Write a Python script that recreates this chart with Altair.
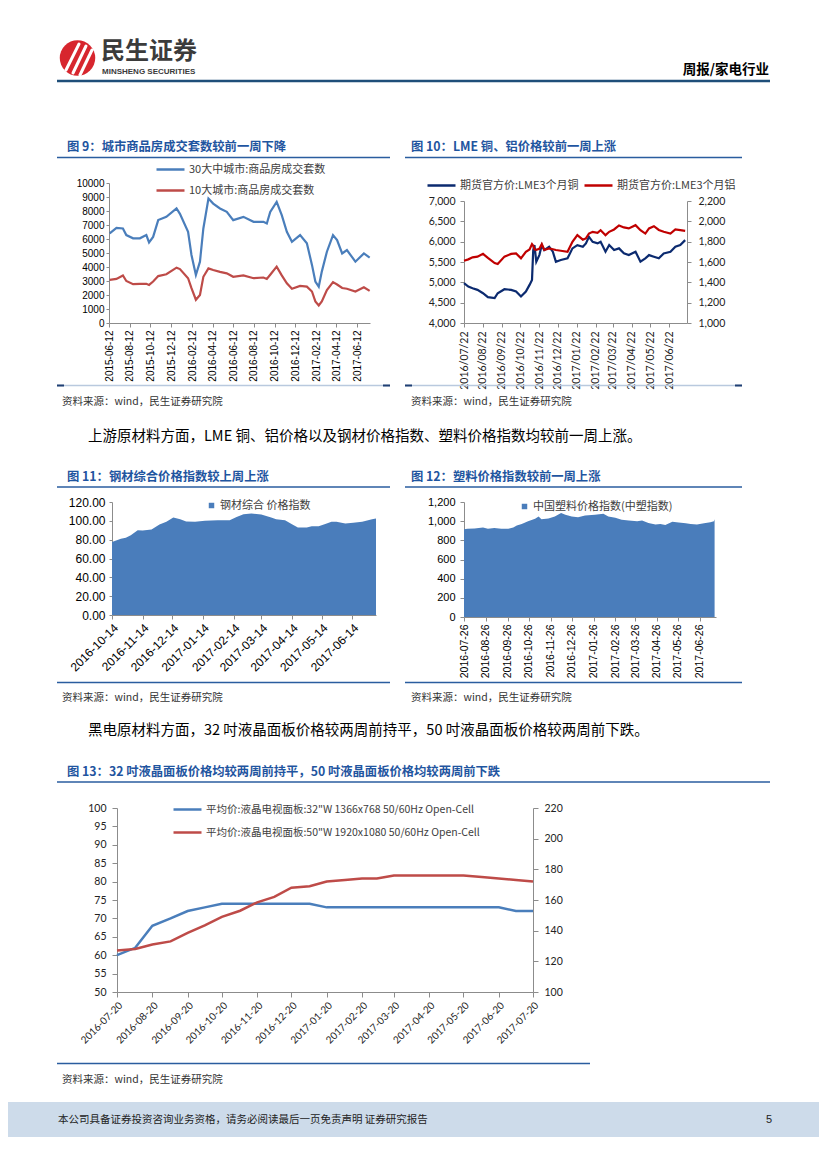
import altair as alt
import pandas as pd

CJK = "Noto Sans CJK SC"
ARIAL = "Liberation Sans"
CAL = "Lato"

# ======================= DATA =======================
# Fig 9: weekly housing transactions
fig9_names = ["30大中城市:商品房成交套数", "10大城市:商品房成交套数"]
fig9_dates = ["2015-06-14", "2015-07-04", "2015-07-23", "2015-08-02", "2015-08-22", "2015-09-11",
              "2015-09-30", "2015-10-08", "2015-10-20", "2015-11-04", "2015-11-28", "2015-12-28",
              "2016-01-07", "2016-01-31", "2016-02-10", "2016-02-23", "2016-03-06", "2016-03-16",
              "2016-03-31", "2016-04-14", "2016-05-04", "2016-05-24", "2016-06-12", "2016-07-12",
              "2016-08-11", "2016-09-09", "2016-09-19", "2016-09-29", "2016-10-18", "2016-11-02",
              "2016-11-17", "2016-12-02", "2016-12-26", "2017-01-15", "2017-01-30", "2017-02-09",
              "2017-02-19", "2017-02-28", "2017-03-15", "2017-04-02", "2017-04-14", "2017-04-29",
              "2017-05-13", "2017-06-07", "2017-07-02", "2017-07-19"]
fig9_big30 = [6400, 6800, 6750, 6280, 6050, 6050, 6280, 5760, 6150, 7350, 7580, 8180, 7800, 6510,
              4860, 3430, 4380, 6750, 8890, 8530, 8180, 7940, 7350, 7580, 7230, 7230, 7110, 7940,
              8650, 7700, 6510, 5800, 6280, 5690, 4150, 2960, 2600, 3670, 5090, 6280, 5920, 4970,
              5210, 4380, 4970, 4670]
fig9_top10 = [3080, 3150, 3390, 3000, 2770, 2800, 2800, 2720, 2960, 3350, 3480, 3950, 3850, 3200,
              2490, 1660, 2000, 3300, 3900, 3790, 3650, 3550, 3300, 3400, 3200, 3250, 3150, 3450,
              4030, 3400, 2840, 2440, 2650, 2600, 2250, 1540, 1250, 1540, 2350, 2920, 2750, 2500,
              2450, 2250, 2550, 2290]
fig9_ticks = ["2015-06-12", "2015-08-12", "2015-10-12", "2015-12-12", "2016-02-12", "2016-04-12",
              "2016-06-12", "2016-08-12", "2016-10-12", "2016-12-12", "2017-02-12", "2017-04-12",
              "2017-06-12"]

# Fig 10: LME copper / aluminium
fig10_names = ["期货官方价:LME3个月铜", "期货官方价:LME3个月铝"]
fig10_dates = ["2016-07-22", "2016-07-29", "2016-08-05", "2016-08-13", "2016-08-22", "2016-08-30",
               "2016-09-10", "2016-09-15", "2016-09-26", "2016-10-07", "2016-10-15", "2016-10-23",
               "2016-10-31", "2016-11-06", "2016-11-10", "2016-11-12", "2016-11-14", "2016-11-17",
               "2016-11-22", "2016-11-26", "2016-11-30", "2016-12-08", "2016-12-14", "2016-12-19",
               "2016-12-27", "2017-01-07", "2017-01-15", "2017-01-23", "2017-02-01", "2017-02-06",
               "2017-02-11", "2017-02-17", "2017-02-25", "2017-03-02", "2017-03-10", "2017-03-16",
               "2017-03-24", "2017-04-01", "2017-04-09", "2017-04-17", "2017-04-28", "2017-05-06",
               "2017-05-14", "2017-05-20", "2017-05-28", "2017-06-05", "2017-06-13", "2017-06-24",
               "2017-07-02", "2017-07-10", "2017-07-18"]
fig10_copper = [4979, 4896, 4855, 4815, 4733, 4636, 4611, 4733, 4831, 4815, 4774, 4651, 4774, 4937,
                5060, 5794, 5916, 5507, 5670, 5916, 5794, 5875, 5753, 5507, 5549, 5590, 5835, 5916,
                5875, 5957, 6119, 5997, 5957, 5997, 5753, 5916, 5794, 5835, 5712, 5670, 5753, 5507,
                5590, 5670, 5630, 5590, 5712, 5753, 5875, 5916, 6038]
fig10_alu = [1613, 1626, 1646, 1653, 1680, 1640, 1590, 1580, 1653, 1680, 1685, 1636, 1700, 1724,
             1776, 1760, 1724, 1720, 1730, 1776, 1718, 1734, 1725, 1718, 1711, 1700, 1799, 1864,
             1820, 1832, 1880, 1897, 1887, 1913, 1864, 1897, 1920, 1960, 1940, 1930, 1962, 1913,
             1880, 1930, 1952, 1915, 1897, 1880, 1920, 1913, 1907]
fig10_ticks = ["2016-07-22", "2016-08-22", "2016-09-22", "2016-10-22", "2016-11-22", "2016-12-22",
               "2017-01-22", "2017-02-22", "2017-03-22", "2017-04-22", "2017-05-22", "2017-06-22"]

# Fig 11: steel index
fig11_name = "钢材综合 价格指数"
fig11_dates = ["2016-10-14", "2016-10-23", "2016-10-28", "2016-11-02", "2016-11-09", "2016-11-14",
               "2016-11-23", "2016-12-01", "2016-12-08", "2016-12-15", "2016-12-22", "2016-12-28",
               "2017-01-06", "2017-01-16", "2017-01-29", "2017-02-10", "2017-02-17", "2017-02-24",
               "2017-03-04", "2017-03-14", "2017-03-24", "2017-03-29", "2017-04-07", "2017-04-14",
               "2017-04-20", "2017-04-29", "2017-05-04", "2017-05-11", "2017-05-17", "2017-05-24",
               "2017-05-29", "2017-06-07", "2017-06-15", "2017-06-24", "2017-07-04", "2017-07-08"]
fig11_steel = [77.6, 81.0, 82.0, 84.7, 90.0, 89.7, 90.8, 96.0, 98.9, 103.5, 101.7, 99.2, 98.9,
               100.0, 100.7, 100.7, 104.1, 107.0, 107.7, 106.6, 103.5, 101.7, 100.7, 96.5, 92.9,
               92.9, 94.3, 94.3, 96.5, 98.9, 98.9, 97.2, 97.9, 98.9, 101.7, 102.4]
fig11_ticks = ["2016-10-14", "2016-11-14", "2016-12-14", "2017-01-14", "2017-02-14", "2017-03-14",
               "2017-04-14", "2017-05-14", "2017-06-14"]

# Fig 12: plastics index
fig12_name = "中国塑料价格指数(中塑指数)"
fig12_dates = ["2016-07-26", "2016-07-31", "2016-08-10", "2016-08-22", "2016-08-29", "2016-09-07",
               "2016-09-17", "2016-09-27", "2016-10-04", "2016-10-09", "2016-10-16", "2016-10-25",
               "2016-11-04", "2016-11-09", "2016-11-13", "2016-11-23", "2016-12-02", "2016-12-11",
               "2016-12-17", "2016-12-26", "2017-01-04", "2017-01-14", "2017-01-28", "2017-02-09",
               "2017-02-16", "2017-02-26", "2017-03-07", "2017-03-17", "2017-03-29", "2017-04-05",
               "2017-04-14", "2017-04-24", "2017-05-01", "2017-05-08", "2017-05-18", "2017-05-27",
               "2017-06-06", "2017-06-13", "2017-06-22", "2017-07-02", "2017-07-11", "2017-07-16",
               "2017-07-17"]
fig12_plastic = [915, 922, 924, 935, 920, 930, 920, 920, 935, 954, 971, 1000, 1024, 1049, 1021,
                 1028, 1049, 1084, 1067, 1049, 1042, 1060, 1067, 1077, 1049, 1035, 1014, 1007,
                 1000, 1007, 982, 965, 971, 961, 993, 986, 979, 971, 965, 979, 989, 1000, 1021]
fig12_ticks = ["2016-07-26", "2016-08-26", "2016-09-26", "2016-10-26", "2016-11-26", "2016-12-26",
               "2017-01-26", "2017-02-26", "2017-03-26", "2017-04-26", "2017-05-26", "2017-06-26"]

# Fig 13: LCD panel prices
fig13_names = ['平均价:液晶电视面板:32"W 1366x768 50/60Hz Open-Cell',
               '平均价:液晶电视面板:50"W 1920x1080 50/60Hz Open-Cell']
fig13_dates = ["2016-07-20", "2016-08-05", "2016-08-20", "2016-09-05", "2016-09-20", "2016-10-05",
               "2016-10-20", "2016-11-05", "2016-11-20", "2016-12-05", "2016-12-20", "2017-01-05",
               "2017-01-20", "2017-02-05", "2017-02-20", "2017-03-05", "2017-03-20", "2017-04-05",
               "2017-04-20", "2017-05-05", "2017-05-20", "2017-06-05", "2017-06-20", "2017-07-05",
               "2017-07-20"]
fig13_p32 = [60, 62, 68, 70, 72, 73, 74, 74, 74, 74, 74, 74, 73, 73, 73, 73, 73, 73, 73, 73, 73,
             73, 73, 72, 72]
fig13_p50 = [127, 128, 131, 133, 138.5, 143.5, 149, 153, 158.5, 162, 168, 169, 172, 173, 174, 174,
             176, 176, 176, 176, 176, 175, 174, 173, 172]
fig13_ticks = ["2016-07-20", "2016-08-20", "2016-09-20", "2016-10-20", "2016-11-20", "2016-12-20",
               "2017-01-20", "2017-02-20", "2017-03-20", "2017-04-20", "2017-05-20", "2017-06-20",
               "2017-07-20"]

# ======================= STYLE =======================
BLUE = "#4a7ebb"
RED = "#be4b48"
NAVY = "#0b2a6f"
DRED = "#c00000"
AREA = "#4a7dbb"
TITLE_C = "#1f55a0"
LINE_C = "#2a5d9f"
AXIS_C = "#8c8c8c"
W = 811
DUMMY = pd.DataFrame({"k": [0]})


def dt(s):
    y, m, d = (int(v) for v in s.split("-"))
    return alt.DateTime(year=y, month=m, date=d, utc=True)


def xscale(a, b, x0, x1):
    # x0, x1: page x of plot left/right edge
    return alt.Scale(type="utc", domain=[dt(a), dt(b)], range=[x0 - 8, x1 - 8])


def xaxis(ticks, fmt, angle, font, size, pad=3, tick=4, color="#000", offset=0):
    return alt.Axis(values=[dt(t) for t in ticks], format=fmt, labelAngle=angle, title=None,
                    orient="bottom", offset=offset, grid=False, domainColor=AXIS_C,
                    tickColor=AXIS_C, tickSize=tick, labelPadding=pad, labelFont=font,
                    labelFontSize=size, labelColor=color, labelOverlap=False, labelFlush=False)


def yaxis(values, fmt, font, size, page_x, orient="left", pad=3, tick=4, color="#000"):
    off = -(page_x - 8) if orient == "left" else (page_x - 8) - W
    return alt.Axis(values=values, format=fmt, orient=orient, offset=off, title=None, grid=False,
                    domainColor=AXIS_C, tickColor=AXIS_C, tickSize=tick, labelPadding=pad,
                    labelFont=font, labelFontSize=size, labelColor=color, labelOverlap=False)


def stroke_legend(page_x, y, size=11):
    return alt.Legend(orient="none", legendX=page_x - 8, legendY=y, title=None,
                      symbolType="stroke", symbolSize=784, symbolStrokeWidth=2.5, labelFont=CJK,
                      labelFontSize=size, labelColor="#404040", labelLimit=600, labelOffset=3,
                      padding=0)


def square_legend(page_x, y, size=11):
    return alt.Legend(orient="none", legendX=page_x - 8, legendY=y, title=None,
                      symbolType="square", symbolSize=30, symbolStrokeWidth=0, labelFont=CJK,
                      labelFontSize=size, labelColor="#404040", labelLimit=600, labelOffset=3,
                      padding=0)


def series_df(dates, values, name):
    return pd.DataFrame({"date": dates, "value": values, "series": [name] * len(dates)})


# decoration helpers (page coordinates, row top oy)
def txt(s, px, py, oy, size=12, weight="normal", color="#000", font=CJK, align="left"):
    return alt.Chart(DUMMY).mark_text(text=s, fontSize=size, fontWeight=weight, color=color,
                                      font=font, align=align, baseline="middle").encode(
        x=alt.value(px - 8), y=alt.value(py - oy))


def hline(x1, x2, py, oy, color=LINE_C, width=1.5):
    return alt.Chart(DUMMY).mark_rule(color=color, strokeWidth=width).encode(
        x=alt.value(x1 - 8), x2=alt.value(x2 - 8), y=alt.value(py - oy))


def seg(x1, y1, x2, y2, oy, color="#fff", width=3):
    return alt.Chart(DUMMY).mark_rule(color=color, strokeWidth=width, strokeCap="round").encode(
        x=alt.value(x1 - 8), x2=alt.value(x2 - 8), y=alt.value(y1 - oy), y2=alt.value(y2 - oy))


def band(x1, x2, y1, y2, oy, color):
    return alt.Chart(DUMMY).mark_rect(color=color).encode(
        x=alt.value(x1 - 8), x2=alt.value(x2 - 8), y=alt.value(y1 - oy), y2=alt.value(y2 - oy))


def soft_line(x1, x2, py, oy):
    return [hline(x1, x2, py, oy, "#b9c9de", 1.5), hline(x1, x1 + 7, py, oy, "#1f3f73", 2),
            hline(x2 - 7, x2, py, oy, "#1f3f73", 2)]


SRC = "资料来源：wind，民生证券研究院"

# ======================= CHART 9 (page x 109-370, y 183-323) =======================
x9 = alt.X("date:T", scale=xscale("2015-06-12", "2017-07-20", 109, 370),
           axis=xaxis(fig9_ticks, "%Y-%m-%d", 270, ARIAL, 10, pad=3, tick=4))
y9 = alt.Y("value:Q", scale=alt.Scale(domain=[0, 10000]),
           axis=yaxis(list(range(0, 10001, 1000)), "d", ARIAL, 10, 109, pad=2, tick=3))
c9a = alt.Chart(series_df(fig9_dates, fig9_big30, fig9_names[0])).mark_line(strokeWidth=2.2).encode(
    x=x9, y=y9,
    color=alt.Color("series:N", scale=alt.Scale(domain=[fig9_names[0]], range=[BLUE]),
                    legend=stroke_legend(155, -29)))
c9b = alt.Chart(series_df(fig9_dates, fig9_top10, fig9_names[1])).mark_line(strokeWidth=2.2).encode(
    x=x9, y=y9,
    color=alt.Color("series:N", scale=alt.Scale(domain=[fig9_names[1]], range=[RED]),
                    legend=stroke_legend(155, -8)))
chart9 = alt.layer(c9a, c9b).resolve_scale(color="independent")

# ======================= CHART 10 (page x 464-687, y 201-323) =======================
x10 = alt.X("date:T", scale=xscale("2016-07-22", "2017-07-21", 464, 687),
            axis=xaxis(fig10_ticks, "%Y/%m/%d", 270, CAL, 10.5, pad=4, tick=4, color="#222"))
c10a = alt.Chart(series_df(fig10_dates, fig10_copper, fig10_names[0])).mark_line(strokeWidth=2.2).encode(
    x=x10,
    y=alt.Y("value:Q", scale=alt.Scale(domain=[4000, 7000], range=[140, 18]),
            axis=yaxis(list(range(4000, 7001, 500)), ",.0f", CAL, 10.5, 464, pad=5, tick=4,
                       color="#222")),
    color=alt.Color("series:N", scale=alt.Scale(domain=[fig10_names[0]], range=[NAVY]),
                    legend=stroke_legend(426, -13)))
c10b = alt.Chart(series_df(fig10_dates, fig10_alu, fig10_names[1])).mark_line(strokeWidth=2.2).encode(
    x=x10,
    y=alt.Y("value:Q", scale=alt.Scale(domain=[1000, 2200], range=[140, 18]),
            axis=yaxis(list(range(1000, 2201, 200)), ",.0f", CAL, 10.5, 687, orient="right",
                       pad=7, tick=4, color="#222")),
    color=alt.Color("series:N", scale=alt.Scale(domain=[fig10_names[1]], range=[DRED]),
                    legend=stroke_legend(583, -13)))
chart10 = alt.layer(c10a, c10b).resolve_scale(y="independent", color="independent")

# ======================= CHART 11 (page x 112-376, y 502-615) =======================
chart11 = alt.Chart(series_df(fig11_dates, fig11_steel, fig11_name)).mark_area().encode(
    x=alt.X("date:T", scale=xscale("2016-10-14", "2017-07-08", 112, 376),
            axis=xaxis(fig11_ticks, "%Y-%m-%d", 315, ARIAL, 12, pad=3, tick=4, offset=-2)),
    y=alt.Y("value:Q", scale=alt.Scale(domain=[0, 120], range=[113, 0]),
            axis=yaxis(list(range(0, 121, 20)), ".2f", ARIAL, 12, 112, pad=4, tick=3)),
    color=alt.Color("series:N", scale=alt.Scale(domain=[fig11_name], range=[AREA]),
                    legend=square_legend(206, -2)))

# ======================= CHART 12 (page x 464-716, y 502-617) =======================
chart12 = alt.Chart(series_df(fig12_dates, fig12_plastic, fig12_name)).mark_area().encode(
    x=alt.X("date:T", scale=xscale("2016-07-26", "2017-07-19", 464, 716),
            axis=xaxis(fig12_ticks, "%Y-%m-%d", 270, ARIAL, 10.5, pad=3, tick=4)),
    y=alt.Y("value:Q", scale=alt.Scale(domain=[0, 1200], range=[115, 0]),
            axis=yaxis(list(range(0, 1201, 200)), ",.0f", ARIAL, 11, 464, pad=5, tick=4)),
    color=alt.Color("series:N", scale=alt.Scale(domain=[fig12_name], range=[AREA]),
                    legend=square_legend(519, -1)))

# ======================= CHART 13 (page x 117-533, y 808-992) =======================
x13 = alt.X("date:T", scale=xscale("2016-07-20", "2017-07-20", 117, 533),
            axis=xaxis(fig13_ticks, "%Y-%m-%d", 315, CAL, 10, pad=3, tick=5, color="#222"))
c13a = alt.Chart(series_df(fig13_dates, fig13_p32, fig13_names[0])).mark_line(strokeWidth=2.5).encode(
    x=x13,
    y=alt.Y("value:Q", scale=alt.Scale(domain=[50, 100]),
            axis=yaxis(list(range(50, 101, 5)), "d", CAL, 10.5, 117, pad=6, tick=5, color="#222")),
    color=alt.Color("series:N", scale=alt.Scale(domain=[fig13_names[0]], range=[BLUE]),
                    legend=stroke_legend(172, -14, 10.5)))
c13b = alt.Chart(series_df(fig13_dates, fig13_p50, fig13_names[1])).mark_line(strokeWidth=2.5).encode(
    x=x13,
    y=alt.Y("value:Q", scale=alt.Scale(domain=[100, 220]),
            axis=yaxis(list(range(100, 221, 20)), "d", CAL, 10.5, 533, orient="right", pad=6,
                       tick=5, color="#222")),
    color=alt.Color("series:N", scale=alt.Scale(domain=[fig13_names[1]], range=[RED]),
                    legend=stroke_legend(172, 9, 10.5)))
chart13 = alt.layer(c13a, c13b).resolve_scale(y="independent", color="independent")

# ======================= PAGE ROWS =======================
T0, T2, T4, T6 = 8, 323, 617, 992
IND = dict(x="independent", y="independent", color="independent")

row0 = alt.layer(
    alt.Chart(DUMMY).mark_circle(size=1260, color="#d7262e", opacity=1).encode(
        x=alt.value(77.5 - 8), y=alt.value(58 - T0)),
    seg(66, 70, 79, 44, T0), seg(73, 73, 86, 46, T0), seg(80, 75, 92, 50, T0),
    txt("民生证券", 101, 52, T0, size=24, weight="bold", color="#3b3b3b"),
    txt("MINSHENG SECURITIES", 102, 72, T0, size=8, weight="bold", color="#3b3b3b", font=ARIAL),
    txt("周报/家电行业", 769, 70, T0, size=13.5, weight="bold", align="right"),
    hline(57, 770, 81, T0, "#1f4e79", 2.5),
    txt("图 9：城市商品房成交套数较前一周下降", 67, 147, T0, size=12.3, weight="bold", color=TITLE_C),
    hline(57, 390, 157.5, T0),
    txt("图 10：LME 铜、铝价格较前一周上涨", 411, 147, T0, size=12.3, weight="bold", color=TITLE_C),
    hline(405, 742, 157.5, T0),
).properties(width=W, height=175)

row1 = alt.layer(chart9, chart10).resolve_scale(**IND).properties(width=W, height=140)

row2 = alt.layer(
    *soft_line(57, 390, 385.5, T2), *soft_line(405, 742, 385.5, T2),
    txt(SRC, 62, 402, T2, size=10.5, color="#333"),
    txt(SRC, 411, 402, T2, size=10.5, color="#333"),
    txt("上游原材料方面，LME 铜、铝价格以及钢材价格指数、塑料价格指数均较前一周上涨。", 88, 437, T2,
        size=14.5),
    txt("图 11：钢材综合价格指数较上周上涨", 67, 477, T2, size=12.3, weight="bold", color=TITLE_C),
    hline(57, 390, 487, T2),
    txt("图 12：塑料价格指数较前一周上涨", 411, 477, T2, size=12.3, weight="bold", color=TITLE_C),
    hline(405, 742, 487, T2),
).properties(width=W, height=179)

row3 = alt.layer(chart11, chart12).resolve_scale(**IND).properties(width=W, height=115)

row4 = alt.layer(
    hline(57, 390, 682.5, T4), hline(405, 742, 682.5, T4),
    txt(SRC, 62, 698, T4, size=10.5, color="#333"),
    txt(SRC, 411, 698, T4, size=10.5, color="#333"),
    txt("黑电原材料方面，32 吋液晶面板价格较两周前持平，50 吋液晶面板价格较两周前下跌。", 88, 731, T4,
        size=14.5),
    txt("图 13：32 吋液晶面板价格均较两周前持平，50 吋液晶面板价格均较两周前下跌", 67, 772, T4,
        size=12.3, weight="bold", color=TITLE_C),
    hline(57, 770, 782, T4),
).properties(width=W, height=191)

row5 = chart13.properties(width=W, height=184)

row6 = alt.layer(
    hline(57, 590, 1063.5, T6),
    txt(SRC, 62, 1080, T6, size=10.5, color="#333"),
    band(8, 819, 1102, 1137, T6, "#cddbea"),
    txt("本公司具备证券投资咨询业务资格，请务必阅读最后一页免责声明 证券研究报告", 58, 1120, T6,
        size=10.5, color="#222"),
    txt("5", 766, 1120, T6, size=11, color="#222", font=ARIAL),
).properties(width=W, height=169)

chart = alt.vconcat(row0, row1, row2, row3, row4, row5, row6, spacing=0, bounds="flush").resolve_scale(
    color="independent").properties(padding=0).configure_view(stroke=None)

chart.save("out.html", embed_options={"renderer": "svg", "actions": False})
